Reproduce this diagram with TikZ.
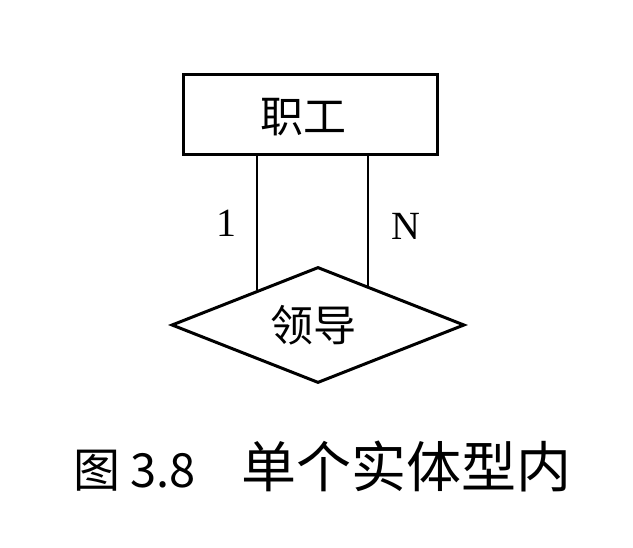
\documentclass[tikz,border=0pt]{standalone}
\usepackage{fontspec}
\newfontfamily\cjk{Noto Sans CJK SC}
\newfontfamily\latin{Liberation Serif}
\usetikzlibrary{shapes.geometric,positioning,calc}

\begin{document}
\begin{tikzpicture}[x=1pt,y=-1pt,
    entity/.style={draw,line width=3pt,rectangle,minimum width=254pt,minimum height=80pt,inner sep=0pt},
    relation/.style={draw,line width=3pt,diamond,aspect=2.5,minimum width=293pt,minimum height=116pt,inner sep=0pt},
    label/.style={inner sep=0pt,font=\cjk\fontsize{43}{43}\selectfont},
    link/.style={line width=2.2pt},
    card/.style={inner sep=0pt,font=\latin\fontsize{40}{40}\selectfont},
    caption/.style={inner sep=0pt,anchor=base west,font=\cjk\fontsize{55}{55}\selectfont}
  ]
    \useasboundingbox (0,0) rectangle (633,548);
  \node[entity] (zhigong) at (310,115) {};
  \node[label] (zhigongtext) at (303,117) {职工};
  \node[relation] (lingdao) at (318,325) {};
  \node[label] (lingdaotext) at (313,325) {领导};
  % ends of the two links on the diamond
  \coordinate (e1) at ($(lingdao.west)!0.59!(lingdao.north)$);
  \coordinate (e2) at ($(lingdao.north)!0.34!(lingdao.east)$);
\draw[link] (e1 |- zhigong.south) -- node[card,left=20pt] (one) {1} (e1);
\draw[link] (e2 |- zhigong.south) -- node[card,right=22pt,yshift=-5pt] (many) {N} (e2);
  \node[caption,font=\cjk\fontsize{47}{47}\selectfont] (fignum) at (73,488) {图 3.8};
  \node[caption] (figtitle) at (241,488) {单个实体型内};

\end{tikzpicture}
\end{document}
